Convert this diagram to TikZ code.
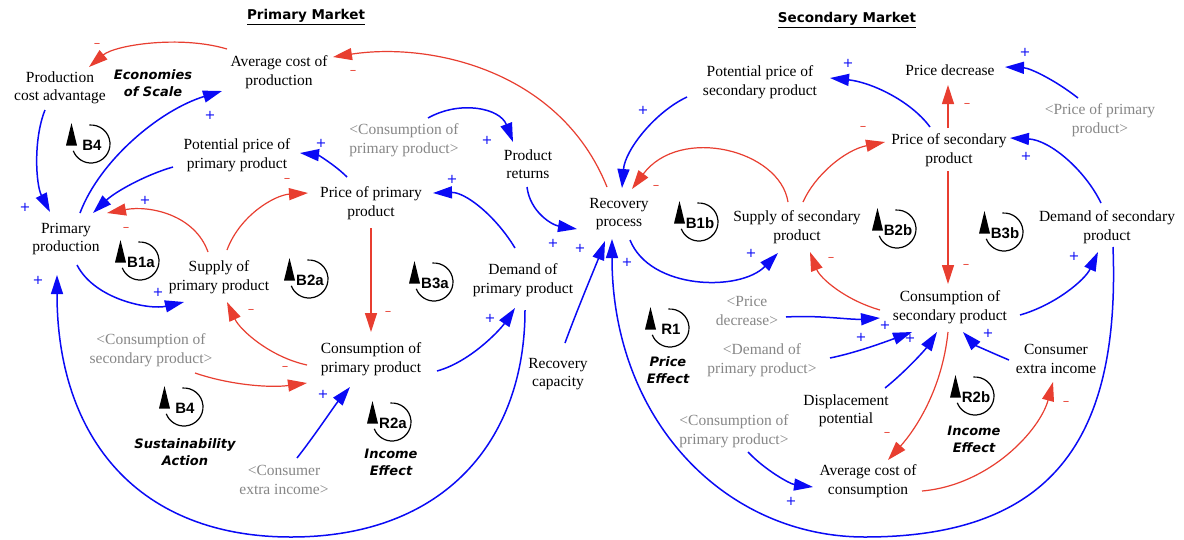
\documentclass[tikz,border=0pt]{standalone}
\usepackage{fontspec}
\setmainfont{Liberation Serif}
\newfontfamily\dvs{DejaVu Sans}
\newfontfamily\lsans{Liberation Sans}
\usetikzlibrary{arrows.meta,calc}
\definecolor{cblue}{RGB}{10,10,245}
\definecolor{cred}{RGB}{232,62,48}
\definecolor{cgray}{RGB}{135,135,135}
\tikzset{
 var/.style={align=center,font=\fontsize{15.5}{18.5}\selectfont,inner sep=0pt},
 gvar/.style={var,text=cgray},
 poslink/.style={cblue,line width=1.5pt,-{Triangle[length=19pt,width=12pt]}},
 neglink/.style={cred,line width=1.2pt,-{Triangle[length=19pt,width=12pt]}},
 plussign/.style={text=cblue,font=\dvs\fontsize{13}{13}\selectfont,inner sep=0pt},
 minussign/.style={text=cred,font=\dvs\fontsize{13}{13}\selectfont,inner sep=0pt},
 loopid/.style={font=\lsans\bfseries\fontsize{15}{17}\selectfont,inner sep=0pt},
 loopname/.style={align=center,font=\dvs\bfseries\itshape\fontsize{13}{17}\selectfont,inner sep=0pt},
 titlestyle/.style={font=\dvs\bfseries\fontsize{13.5}{15}\selectfont,inner sep=0pt},
}
\newcommand{\loopsym}[4]{%
 \begin{scope}[shift={(#2,#3)}]
  \draw[line width=1.2pt] (95:19pt) arc[start angle=95,end angle=-159,radius=19pt];
  \fill (-25pt,-1.5pt) -- (-14pt,-1.5pt) -- (-19.5pt,21pt) -- cycle;
  \node[loopid] (#1) at (1,1) {#4};
 \end{scope}}
\newcommand{\mns}{\char"2013}
\begin{document}
\begin{tikzpicture}[x=1pt,y=-1pt]
\fill[white] (0,0) rectangle (1184,539);
\useasboundingbox (0,0) rectangle (1184,539);
% titles
\node[titlestyle] (t1) at (306,17) {\underline{Primary Market}};
\node[titlestyle] (t2) at (847,20) {\underline{Secondary Market}};
% variables
\node[var] (apr) at (279,72) {Average cost of\\production};
\node[var] (pca) at (60,88) {Production\\cost advantage};
\node[var] (ppp) at (237,155) {Potential price of\\primary product};
\node[gvar] (cpp1) at (404,140) {<Consumption of\\primary product>};
\node[var] (pr) at (528,164) {Product\\returns};
\node[var] (pp) at (371,203) {Price of primary\\product};
\node[var] (prod) at (66,239) {Primary\\production};
\node[var] (sp) at (219,277) {Supply of\\primary product};
\node[var] (dp) at (523,280) {Demand of\\primary product};
\node[gvar] (cspg) at (151,350) {<Consumption of\\secondary product>};
\node[var] (cp) at (371,359) {Consumption of\\primary product};
\node[gvar] (ceig) at (284,480) {<Consumer\\extra income>};
\node[var] (rc) at (558,374) {Recovery\\capacity};
\node[var] (rp) at (619,214) {Recovery\\process};
\node[var] (pps) at (760,82) {Potential price of\\secondary product};
\node[var] (pd) at (950,70) {Price decrease};
\node[gvar] (ppg) at (1100,120) {<Price of primary\\product>};
\node[var] (ps) at (949,150) {Price of secondary\\product};
\node[var] (ss) at (797,227) {Supply of secondary\\product};
\node[var] (ds) at (1107,227) {Demand of secondary\\product};
\node[var] (cs) at (950,307) {Consumption of\\secondary product};
\node[gvar] (pdg) at (747,311) {<Price\\decrease>};
\node[gvar] (dpg) at (762,360) {<Demand of\\primary product>};
\node[var] (disp) at (846,411) {Displacement\\potential};
\node[gvar] (cpp2) at (734,431) {<Consumption of\\primary product>};
\node[var] (cei) at (1056,359) {Consumer\\extra income};
\node[var] (acc) at (868,481) {Average cost of\\consumption};
% loop names
\node[loopname] (n1) at (153,83) {Economies\\of Scale};
\node[loopname] (n2) at (185,452) {Sustainability\\Action};
\node[loopname] (n3) at (391,462) {Income\\Effect};
\node[loopname] (n4) at (668,370) {Price\\Effect};
\node[loopname] (n5) at (974,439) {Income\\Effect};
% loop symbols
\loopsym{L1}{91}{144}{B4}
\loopsym{L2}{140}{261}{B1a}
\loopsym{L3}{309}{279}{B2a}
\loopsym{L4}{434}{282}{B3a}
\loopsym{L5}{184}{407}{B4}
\loopsym{L6}{392}{422}{R2a}
\loopsym{L7}{670}{328}{R1}
\loopsym{L8}{699}{222}{B1b}
\loopsym{L9}{897}{229}{B2b}
\loopsym{L10}{1004}{232}{B3b}
\loopsym{L11}{975}{396}{R2b}
% primary market links
\draw[neglink] ($(apr)+(-52,-23)$) .. controls (180,35) and (115,45) .. ($(pca)+(29,-21)$);
\draw[neglink] ($(rp)+(-12,-27)$) .. controls (560,70) and (430,42) .. ($(apr)+(54,-15)$);
\draw[poslink] ($(pca)+(-15,22)$) .. controls (33,140) and (36,185) .. ($(prod)+(-16,-27)$);
\draw[poslink] ($(prod)+(14,-26)$) .. controls (100,160) and (160,110) .. ($(apr)+(-57,19)$);
\draw[poslink] ($(ppp)+(-64,12)$) .. controls (145,175) and (115,192) .. ($(prod)+(27,-26)$);
\draw[neglink] ($(sp)+(-11,-25)$) .. controls (195,215) and (150,205) .. ($(prod)+(41,-26)$);
\draw[poslink] ($(prod)+(11,26)$) .. controls (95,300) and (150,310) .. ($(sp)+(-35,25)$);
\draw[neglink] ($(sp)+(8,-27)$) .. controls (240,215) and (275,195) .. ($(pp)+(-63,-10)$);
\draw[poslink] ($(pp)+(-24,-26)$) .. controls (335,165) and (318,155) .. ($(ppp)+(63,-2)$);
\draw[neglink] ($(pp)+(0,25)$) -- ($(cp)+(0,-27)$);
\draw[neglink] ($(cp)+(-64,6)$) .. controls (270,357) and (240,330) .. ($(sp)+(8,25)$);
\draw[neglink] ($(cspg)+(44,23)$) .. controls (230,385) and (270,388) .. ($(cp)+(-64,24)$);
\draw[poslink] ($(ceig)+(13,-22)$) .. controls (315,435) and (335,405) .. ($(cp)+(-21,28)$);
\draw[poslink] ($(cp)+(66,12)$) .. controls (470,362) and (500,330) .. ($(dp)+(-8,28)$);
\draw[poslink] ($(dp)+(-8,-32)$) .. controls (495,215) and (465,192) .. ($(pp)+(62,-10)$);
\draw[poslink] ($(cpp1)+(24,-22)$) .. controls (460,100) and (500,108) .. ($(pr)+(-15,-22)$);
\draw[poslink] ($(pr)+(-1,23)$) .. controls (530,212) and (552,225) .. ($(rp)+(-42,15)$);
\draw[poslink] ($(rc)+(7,-31)$) .. controls (577,310) and (596,265) .. ($(rp)+(-14,27)$);
\draw[poslink] ($(dp)+(2,30)$) .. controls (525,440) and (445,537) .. (291,537) .. controls (140,537) and (57,440) .. ($(prod)+(-9,36)$);
% secondary market links
\draw[poslink] ($(ds)+(6,20)$) .. controls (1120,430) and (1060,537) .. (865,537) .. controls (725,537) and (612,420) .. ($(rp)+(-7,25)$);
\draw[poslink] ($(rp)+(11,26)$) .. controls (650,290) and (740,292) .. ($(ss)+(-19,26)$);
\draw[neglink] ($(ss)+(-9,-25)$) .. controls (780,150) and (680,125) .. ($(rp)+(13,-25)$);
\draw[poslink] ($(pps)+(-73,15)$) .. controls (655,112) and (625,150) .. ($(rp)+(3,-26)$);
\draw[neglink] ($(ss)+(6,-25)$) .. controls (815,175) and (845,150) .. ($(ps)+(-64,-8)$);
\draw[poslink] ($(ps)+(-19,-23)$) .. controls (910,100) and (870,82) .. ($(pps)+(70,-4)$);
\draw[neglink] ($(ps)+(-1,-22)$) -- ($(pd)+(-2,15)$);
\draw[poslink] ($(ppg)+(-22,-22)$) .. controls (1055,80) and (1030,68) .. ($(pd)+(55,-3)$);
\draw[poslink] ($(ds)+(-6,-24)$) .. controls (1085,170) and (1050,140) .. ($(ps)+(61,-12)$);
\draw[neglink] ($(ps)+(-1,21)$) -- ($(cs)+(-2,-23)$);
\draw[neglink] ($(cs)+(-70,3)$) .. controls (845,300) and (820,278) .. ($(ss)+(13,25)$);
\draw[poslink] ($(cs)+(70,8)$) .. controls (1055,305) and (1085,280) .. ($(ds)+(-9,25)$);
\draw[poslink] ($(pdg)+(39,6)$) .. controls (820,315) and (850,320) .. ($(cs)+(-70,11)$);
\draw[poslink] ($(dpg)+(68,-2)$) .. controls (855,353) and (885,342) .. ($(cs)+(-38,25)$);
\draw[poslink] ($(disp)+(39,-23)$) .. controls (905,372) and (925,350) .. ($(cs)+(-13,25)$);
\draw[poslink] ($(cei)+(-47,1)$) .. controls (990,352) and (975,345) .. ($(cs)+(13,25)$);
\draw[neglink] ($(cs)+(-2,25)$) .. controls (942,390) and (915,430) .. ($(acc)+(20,-21)$);
\draw[poslink] ($(cpp2)+(14,21)$) .. controls (765,470) and (790,484) .. ($(acc)+(-55,6)$);
\draw[neglink] ($(acc)+(54,10)$) .. controls (990,485) and (1040,430) .. ($(cei)+(-3,23)$);
% polarity signs
\node[plussign] (p1) at (210,115) {+};
\node[plussign] (p2) at (25,207) {+};
\node[plussign] (p3) at (145,200) {+};
\node[plussign] (p4) at (158,292) {+};
\node[plussign] (p5) at (321,143) {+};
\node[plussign] (p6) at (323,394) {+};
\node[plussign] (p7) at (490,318) {+};
\node[plussign] (p8) at (452,179) {+};
\node[plussign] (p9) at (487,140) {+};
\node[plussign] (p10) at (553,243) {+};
\node[plussign] (p11) at (580,248) {+};
\node[plussign] (p12) at (627,262) {+};
\node[plussign] (p13) at (38,280) {+};
\node[plussign] (p14) at (751,253) {+};
\node[plussign] (p15) at (643,110) {+};
\node[plussign] (p16) at (848,63) {+};
\node[plussign] (p17) at (1025,52) {+};
\node[plussign] (p18) at (1026,156) {+};
\node[plussign] (p19) at (1074,256) {+};
\node[plussign] (p20) at (885,325) {+};
\node[plussign] (p21) at (861,337) {+};
\node[plussign] (p22) at (910,338) {+};
\node[plussign] (p23) at (988,333) {+};
\node[plussign] (p24) at (791,501) {+};
\node[minussign] (m1) at (97,45) {\mns};
\node[minussign] (m2) at (353,72) {\mns};
\node[minussign] (m3) at (126,229) {\mns};
\node[minussign] (m4) at (287,180) {\mns};
\node[minussign] (m5) at (388,313) {\mns};
\node[minussign] (m6) at (251,311) {\mns};
\node[minussign] (m7) at (285,368) {\mns};
\node[minussign] (m8) at (656,187) {\mns};
\node[minussign] (m9) at (863,128) {\mns};
\node[minussign] (m10) at (967,105) {\mns};
\node[minussign] (m11) at (966,266) {\mns};
\node[minussign] (m12) at (831,259) {\mns};
\node[minussign] (m13) at (887,434) {\mns};
\node[minussign] (m14) at (1066,403) {\mns};
\end{tikzpicture}
\end{document}
